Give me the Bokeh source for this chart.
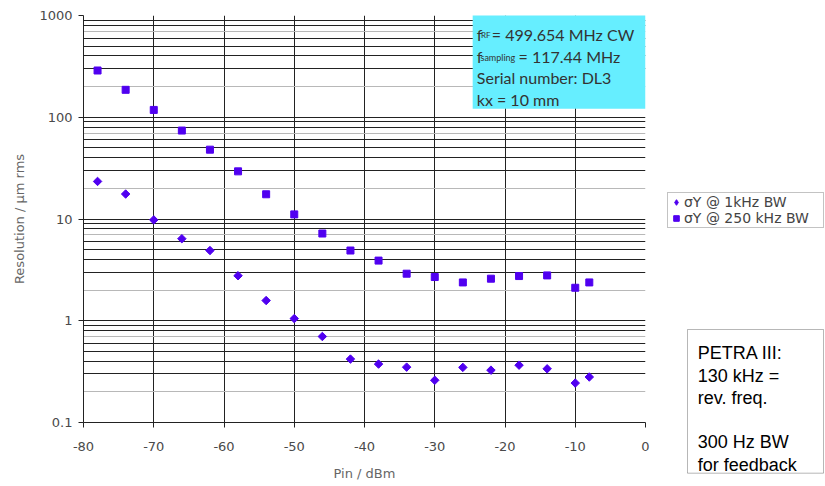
from bokeh.plotting import figure
from bokeh.layouts import row, column
from bokeh.models import (Range1d, FixedTicker, Grid, NumeralTickFormatter, Label,
                          BoxAnnotation, Legend, LegendItem, CustomJSTickFormatter)
from bokeh.embed import file_html
from bokeh.resources import INLINE

# ---- data ----
pin_dbm = [-78, -74, -70, -66, -62, -58, -54, -50, -46, -42, -38, -34, -30, -26, -22, -18, -14, -10, -8]
sigma_1khz = [23.4, 17.6, 9.8, 6.4, 4.9, 2.77, 1.58, 1.05, 0.70, 0.42, 0.375, 0.35, 0.26,
              0.348, 0.327, 0.366, 0.337, 0.244, 0.28]
sigma_250khz = [288, 186, 118, 74, 48, 29.4, 17.5, 11.1, 7.2, 4.9, 3.9, 2.9, 2.69,
                2.38, 2.59, 2.75, 2.79, 2.11, 2.38]
x_ticks = [-80, -70, -60, -50, -40, -30, -20, -10, 0]
y_ticks = [0.1, 1, 10, 100, 1000]
legend_labels = ["σY @ 1kHz BW", "σY @ 250 kHz BW"]
info_lines = ["Serial number: DL3", "kx = 10 mm"]
petra_lines = ["PETRA III:", "130 kHz =", "rev. freq.", "300 Hz BW", "for feedback"]

MARK = "#5000f0"
TICK_FONT = "DejaVu Sans"

# ---------------- main chart ----------------
p = figure(width=655, height=486, output_backend="svg", toolbar_location=None,
           x_range=Range1d(-80, 0), y_range=Range1d(0.1, 1000), y_axis_type="log",
           min_border_left=83, min_border_right=10, min_border_top=15, min_border_bottom=64,
           background_fill_color="white", border_fill_color="white")
p.outline_line_color = None
p.xgrid.visible = False
p.ygrid.visible = False

# grids
p.add_layout(Grid(dimension=0, ticker=FixedTicker(ticks=x_ticks[1:-1]),
                  grid_line_color="#222222", grid_line_width=1))
p.add_layout(Grid(dimension=0, ticker=FixedTicker(ticks=[0]),
                  grid_line_color="#9a9a9a", grid_line_width=1))
dark_y = [m * 10.0 ** e for e in range(-1, 3) for m in (1, 3, 4, 5, 6, 8, 9)] + [1000]
light_y = [m * 10.0 ** e for e in range(-1, 3) for m in (2, 7)]
p.add_layout(Grid(dimension=1, ticker=FixedTicker(ticks=light_y),
                  grid_line_color="#b8b8b8", grid_line_width=1))
p.add_layout(Grid(dimension=1, ticker=FixedTicker(ticks=dark_y),
                  grid_line_color="#222222", grid_line_width=1))

# axes
p.xaxis.ticker = FixedTicker(ticks=x_ticks)
p.xaxis.formatter = CustomJSTickFormatter(code="return String(tick);")
p.yaxis.ticker = FixedTicker(ticks=y_ticks)
p.yaxis.formatter = NumeralTickFormatter(format="0.[0]")
for ax in (p.xaxis[0], p.yaxis[0]):
    ax.axis_line_color = "#222222"
    ax.major_tick_line_color = "#222222"
    ax.major_tick_in = 0
    ax.major_tick_out = 5
    ax.minor_tick_line_color = None
    ax.major_label_text_font = TICK_FONT
    ax.major_label_text_font_size = "13px"
    ax.major_label_text_color = "#4a4a4a"
    ax.axis_label_text_font = TICK_FONT
    ax.axis_label_text_font_size = "13px"
    ax.axis_label_text_font_style = "normal"
    ax.axis_label_text_color = "#666666"
p.xaxis.axis_label = "Pin / dBm"
p.yaxis.axis_label = "Resolution / µm rms"
p.xaxis.major_label_standoff = 14
p.xaxis.axis_label_standoff = 12
p.yaxis.major_label_standoff = 6
p.yaxis.axis_label_standoff = 9

# data
p.scatter(pin_dbm, sigma_1khz, marker="square", angle=0.785398, size=6,
          fill_color=MARK, line_color=MARK)
p.scatter(pin_dbm, sigma_250khz, marker="square", size=7,
          fill_color=MARK, line_color=MARK)

# cyan info box
p.add_layout(BoxAnnotation(left=-24.6, right=0, bottom=121, top=1040,
                           fill_color="#66eeff", fill_alpha=1, line_color=None))
BOX_FONT = "Lato"
BOX_COLOR = "#333333"


def lab(fig, x, y, text, size, font=BOX_FONT, color=BOX_COLOR, units="screen"):
    fig.add_layout(Label(x=x, y=y, x_units=units, y_units=units, text=text,
                         text_font=font, text_font_size=size, text_color=color,
                         text_baseline="alphabetic", text_align="left"))


lab(p, 393.3, 388.5, "f", "16px")
lab(p, 397.5, 387.5, "RF", "8px")
lab(p, 408.3, 388.5, "= 499.654 MHz CW", "16px")
lab(p, 393.3, 366.5, "f", "16px")
lab(p, 397.0, 365.0, "sampling", "9px")
lab(p, 435.0, 366.5, "= 117.44 MHz", "16px")
lab(p, 393.3, 345.0, info_lines[0], "16px")
lab(p, 393.3, 323.5, info_lines[1], "16px")

# ---------------- side panel (legend + note) ----------------
s = figure(width=170, height=486, output_backend="svg", toolbar_location=None,
           x_range=Range1d(655, 825), y_range=Range1d(486, 0),
           min_border=0, background_fill_color="white", border_fill_color="white")
s.axis.visible = False
s.grid.visible = False
s.outline_line_color = None

# legend proxies: same data, lying outside this panel's visible range
g1 = s.scatter(pin_dbm, sigma_1khz, marker="diamond", size=8,
               fill_color=MARK, line_color=MARK)
g2 = s.scatter(pin_dbm, sigma_250khz, marker="square", size=7,
               fill_color=MARK, line_color=MARK)
legend = Legend(items=[LegendItem(label=legend_labels[0], renderers=[g1]),
                       LegendItem(label=legend_labels[1], renderers=[g2])],
                location=(12, 258), padding=1, margin=0, spacing=0,
                glyph_width=14, glyph_height=16, label_standoff=1, label_width=138,
                label_height=16, label_text_font=TICK_FONT, label_text_font_size="14px",
                label_text_color="#444444", border_line_color="#888888",
                border_line_width=1, background_fill_color="white", background_fill_alpha=1)
s.add_layout(legend)

s.add_layout(BoxAnnotation(left=687, right=823, top=329, bottom=472.7,
                           fill_color="white", fill_alpha=1,
                           line_color="#111111", line_width=1))
petra_y = [352.3, 375.5, 397.0, 441.7, 464.3]
for t, yy in zip(petra_lines, petra_y):
    lab(s, 697.3, yy, t, "18px", font="Liberation Sans", color="#000000", units="data")

layout = row(p, column(s), spacing=0)
open("out.html", "w").write(file_html(layout, INLINE))
